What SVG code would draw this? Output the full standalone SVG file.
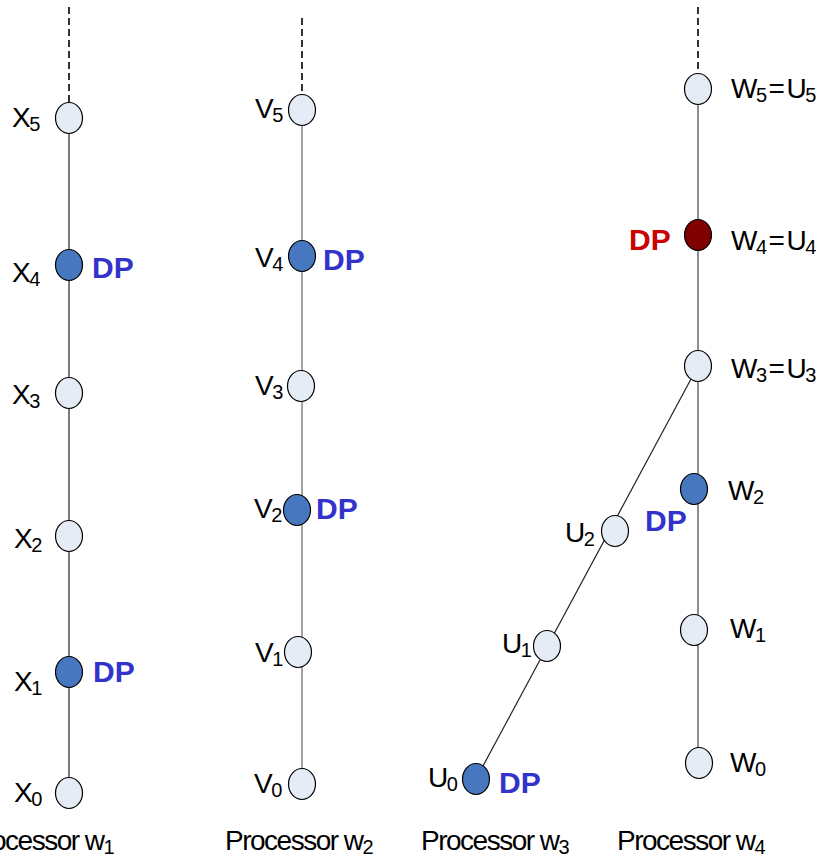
<svg xmlns="http://www.w3.org/2000/svg" width="820" height="856" viewBox="0 0 820 856">
<style>
.lbl{font-family:"Liberation Sans",Arial,sans-serif;font-size:28px;letter-spacing:-1.5px;fill:#000}
.sub{font-size:20px}
.dp{font-family:"Liberation Sans",Arial,sans-serif;font-size:30px;font-weight:bold;fill:#3333CC}
.dpr{fill:#CC0000}
.n{fill:#E6ECF6;stroke:#000;stroke-width:1.2}
.d{fill:#4677BF;stroke:#000;stroke-width:1.2}
.r{fill:#800000;stroke:#000;stroke-width:1.2}
.ln{stroke:#222;stroke-width:1.2;fill:none}
.dash{stroke:#000;stroke-width:1.6;stroke-dasharray:7 4;fill:none}
</style>
<rect width="820" height="856" fill="#fff"/>
<g id="connectors">
<line class="dash" x1="69" y1="7" x2="69" y2="102"/>
<line class="ln" x1="69" y1="118" x2="69" y2="792"/>
<line class="dash" x1="302" y1="18" x2="302" y2="93"/>
<line class="ln" x1="302" y1="109" x2="302" y2="784" style="stroke:#666"/>
<line class="dash" x1="698" y1="7" x2="698" y2="73"/>
<line class="ln" x1="698" y1="89" x2="698" y2="763" style="stroke:#444"/>
<line class="ln" x1="698" y1="366" x2="476" y2="779"/>
</g>
<g id="X5"><ellipse class="n" cx="69" cy="118" rx="13.5" ry="15.5"/><text class="lbl" x="12" y="127">X<tspan class="sub" dy="4">5</tspan></text></g>
<g id="X4"><ellipse class="d" cx="69" cy="265" rx="13.5" ry="15.5"/><text class="lbl" x="12" y="282">X<tspan class="sub" dy="4">4</tspan></text><text class="dp" x="92" y="278">DP</text></g>
<g id="X3"><ellipse class="n" cx="69" cy="393" rx="13.5" ry="15.5"/><text class="lbl" x="12" y="404">X<tspan class="sub" dy="4">3</tspan></text></g>
<g id="X2"><ellipse class="n" cx="69" cy="536" rx="13.5" ry="15.5"/><text class="lbl" x="14" y="548">X<tspan class="sub" dy="4">2</tspan></text></g>
<g id="X1"><ellipse class="d" cx="69" cy="672" rx="13.5" ry="15.5"/><text class="lbl" x="14" y="691">X<tspan class="sub" dy="4">1</tspan></text><text class="dp" x="93" y="682">DP</text></g>
<g id="X0"><ellipse class="n" cx="69" cy="793" rx="13.5" ry="15.5"/><text class="lbl" x="14" y="802">X<tspan class="sub" dy="4">0</tspan></text></g>
<g id="V5"><ellipse class="n" cx="302" cy="110" rx="13.5" ry="15.5"/><text class="lbl" x="255" y="118">V<tspan class="sub" dy="4">5</tspan></text></g>
<g id="V4"><ellipse class="d" cx="302" cy="256" rx="13.5" ry="15.5"/><text class="lbl" x="255" y="267">V<tspan class="sub" dy="4">4</tspan></text><text class="dp" x="323" y="270">DP</text></g>
<g id="V3"><ellipse class="n" cx="301" cy="386" rx="13.5" ry="15.5"/><text class="lbl" x="255" y="395">V<tspan class="sub" dy="4">3</tspan></text></g>
<g id="V2"><ellipse class="d" cx="297" cy="510" rx="13.5" ry="15.5"/><text class="lbl" x="254" y="518">V<tspan class="sub" dy="4">2</tspan></text><text class="dp" x="316" y="519">DP</text></g>
<g id="V1"><ellipse class="n" cx="298" cy="652" rx="13.5" ry="15.5"/><text class="lbl" x="255" y="662">V<tspan class="sub" dy="4">1</tspan></text></g>
<g id="V0"><ellipse class="n" cx="302" cy="784" rx="13.5" ry="15.5"/><text class="lbl" x="254" y="793">V<tspan class="sub" dy="4">0</tspan></text></g>
<g id="W5"><ellipse class="n" cx="698" cy="89" rx="13.5" ry="15.5"/><text class="lbl" x="731" y="98">W<tspan class="sub" dy="4">5</tspan><tspan dy="-4" dx="3">=</tspan><tspan dx="3">U</tspan><tspan class="sub" dy="4">5</tspan></text></g>
<g id="W4"><ellipse class="r" cx="698" cy="235" rx="13.5" ry="15.5"/><text class="lbl" x="731" y="250">W<tspan class="sub" dy="4">4</tspan><tspan dy="-4" dx="3">=</tspan><tspan dx="3">U</tspan><tspan class="sub" dy="4">4</tspan></text><text class="dp dpr" x="629" y="250">DP</text></g>
<g id="W3"><ellipse class="n" cx="698" cy="366" rx="13.5" ry="15.5"/><text class="lbl" x="731" y="378">W<tspan class="sub" dy="4">3</tspan><tspan dy="-4" dx="3">=</tspan><tspan dx="3">U</tspan><tspan class="sub" dy="4">3</tspan></text></g>
<g id="W2"><ellipse class="d" cx="694" cy="489" rx="13.5" ry="15.5"/><text class="lbl" x="728" y="500">W<tspan class="sub" dy="4">2</tspan></text></g>
<g id="W1"><ellipse class="n" cx="694" cy="630" rx="13.5" ry="15.5"/><text class="lbl" x="730" y="638">W<tspan class="sub" dy="4">1</tspan></text></g>
<g id="W0"><ellipse class="n" cx="699" cy="763" rx="13.5" ry="15.5"/><text class="lbl" x="730" y="772">W<tspan class="sub" dy="4">0</tspan></text></g>
<g id="U2"><ellipse class="n" cx="615" cy="531" rx="13.5" ry="15.5"/><text class="lbl" x="565" y="542">U<tspan class="sub" dy="4">2</tspan></text><text class="dp" x="645" y="531">DP</text></g>
<g id="U1"><ellipse class="n" cx="547" cy="646" rx="13.5" ry="15.5"/><text class="lbl" x="502" y="653">U<tspan class="sub" dy="4">1</tspan></text></g>
<g id="U0"><ellipse class="d" cx="476" cy="779" rx="13.5" ry="15.5"/><text class="lbl" x="428" y="787">U<tspan class="sub" dy="4">0</tspan></text><text class="dp" x="499" y="793">DP</text></g>
<g id="labels">
<text class="lbl" x="-34" y="850">Processor w<tspan class="sub" dy="4">1</tspan></text>
<text class="lbl" x="225" y="850">Processor w<tspan class="sub" dy="4">2</tspan></text>
<text class="lbl" x="421" y="850">Processor w<tspan class="sub" dy="4">3</tspan></text>
<text class="lbl" x="617" y="850">Processor w<tspan class="sub" dy="4">4</tspan></text>
</g>
</svg>
